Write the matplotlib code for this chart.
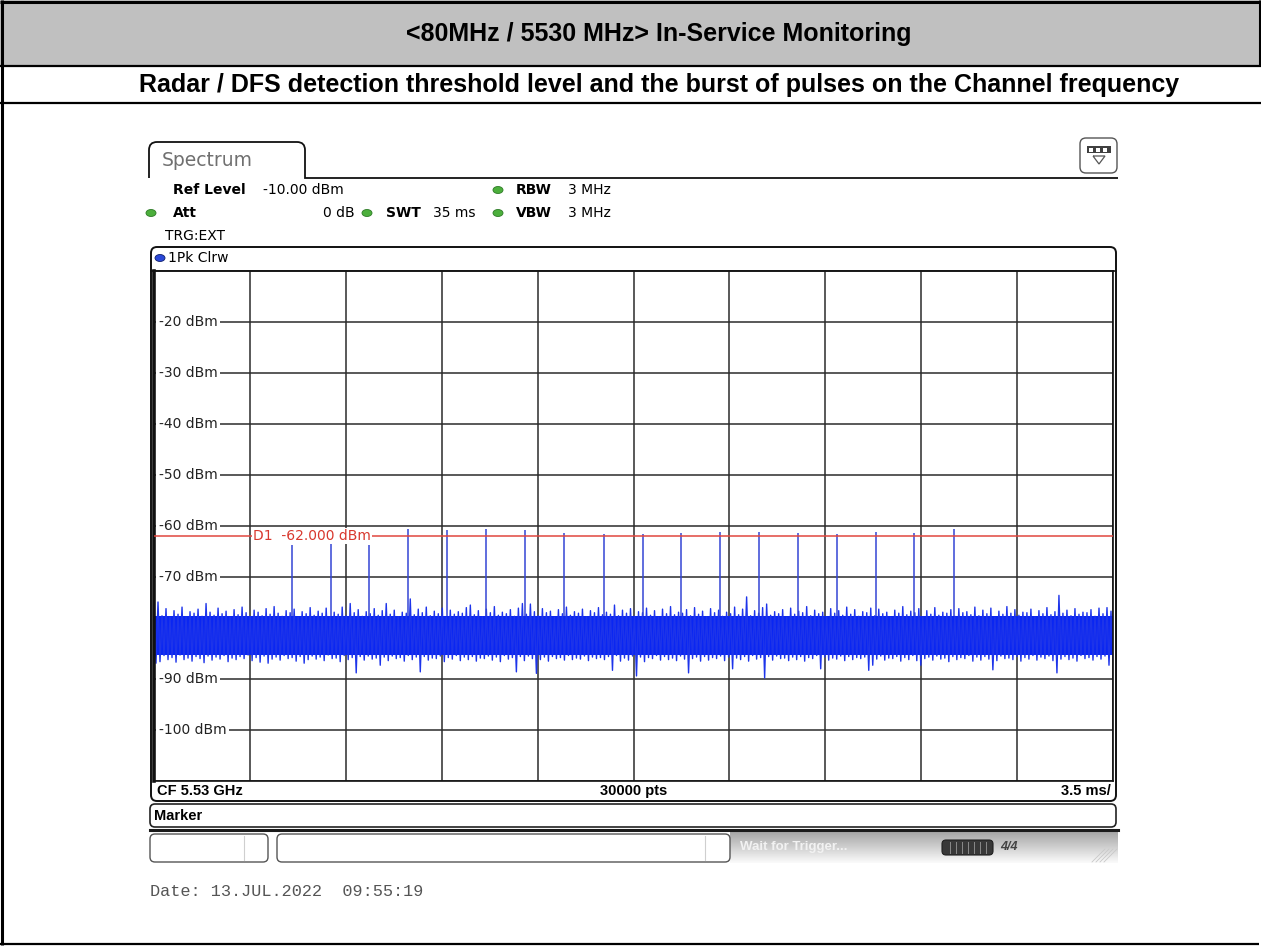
import numpy as np
import matplotlib
matplotlib.use("Agg")
import matplotlib.pyplot as plt
from matplotlib.patches import FancyBboxPatch, Ellipse, Rectangle, PathPatch
from matplotlib.path import Path

plt.rcParams['font.family'] = ['DejaVu Sans']

W, H = 1261, 947

title_text = "<80MHz / 5530 MHz> In-Service Monitoring"
subtitle_text = "Radar / DFS detection threshold level and the burst of pulses on the Channel frequency"
date_text = "Date: 13.JUL.2022  09:55:19"

# analyzer settings
sweep_ms = 35.0
div_ms = 3.5
ref_level = -10
y_bottom = -110
y_labels = [-20, -30, -40, -50, -60, -70, -90, -100]
threshold_dbm = -62.0
threshold_label = "D1  -62.000 dBm"
footer_left = "CF 5.53 GHz"
footer_mid = "30000 pts"
footer_right = "3.5 ms/"

# radar burst: pulse time (ms) and peak level (dBm)
pulse_t = [5.03, 6.45, 7.86, 9.28, 10.68, 12.11, 13.54, 14.95, 16.41,
           17.84, 19.25, 20.66, 22.08, 23.50, 24.92, 26.34, 27.75, 29.18]
pulse_peak = [-63.7, -63.6, -63.7, -60.6, -60.8, -60.6, -60.8, -61.4, -61.6,
              -61.6, -61.4, -61.1, -61.1, -61.4, -61.5, -61.1, -61.4, -60.6]

# noise floor envelope (max / min per group of display columns)
noise_hi = [
    -76.9, -74.9, -77.6, -76.2, -77.9, -76.6, -77.3, -75.9, -77.8, -76.8, -77.1, -76.3, -77.7, -75.2, -76.9, -77.5, -76.1, -77.2, -76.7, -77.9,
    -76.4, -77.4, -75.9, -77.0, -77.8, -76.5, -76.9, -77.6, -76.2, -77.3, -75.8, -77.1, -77.7, -76.6, -77.0, -76.3, -77.9, -76.8, -77.2, -76.0,
    -77.5, -76.7, -77.1, -76.1, -77.8, -76.9, -77.3, -75.9, -77.6, -75.2, -77.0, -76.4, -77.7, -76.8, -77.2, -76.2, -77.5, -76.6, -75.2, -77.3,
    -76.5, -77.8, -76.9, -77.1, -74.3, -77.4, -76.3, -77.0, -75.9, -77.6, -76.7, -77.2, -76.1, -77.9, -76.5, -77.3, -76.8, -77.1, -76.0, -75.5,
    -77.4, -76.6, -77.8, -76.3, -77.0, -75.8, -77.5, -76.9, -77.2, -76.4, -77.7, -76.1, -75.2, -77.3, -75.3, -76.8, -77.6, -76.2, -77.0, -76.7,
    -77.9, -76.4, -77.2, -75.9, -77.5, -76.8, -77.1, -76.3, -77.8, -76.6, -77.0, -76.0, -77.4, -76.9, -77.3, -75.5, -77.6, -76.5, -77.1, -76.2,
    -77.7, -76.8, -77.0, -76.1, -77.5, -76.6, -77.9, -76.3, -77.2, -75.8, -77.4, -76.9, -77.1, -76.4, -77.6, -76.0, -77.3, -76.7, -77.8, -76.2,
    -77.0, -76.5, -77.7, -76.9, -77.2, -75.9, -77.4, -76.3, -73.9, -77.6, -76.6, -77.1, -76.0, -75.3, -77.5, -76.8, -77.2, -76.4, -77.9, -76.1,
    -77.3, -76.7, -77.0, -75.8, -77.6, -76.5, -77.2, -76.9, -77.8, -76.2, -77.1, -76.6, -77.5, -75.9, -77.3, -76.4, -77.7, -76.8, -77.0, -76.1,
    -77.6, -76.3, -77.2, -76.9, -77.9, -76.5, -77.1, -75.8, -77.4, -76.7, -77.0, -76.2, -77.8, -76.6, -77.3, -76.0, -77.5, -76.9, -77.1, -76.4,
    -77.7, -76.2, -77.0, -76.8, -77.4, -75.9, -77.6, -76.5, -77.2, -76.1, -77.9, -76.7, -77.3, -75.8, -77.1, -76.4, -77.5, -76.9, -77.0, -76.3,
    -77.8, -76.6, -77.2, -76.0, -77.4, -76.8, -73.6, -77.1, -76.5, -77.6, -76.2, -77.3, -76.9, -77.0, -76.4, -77.7, -76.1, -77.2, -76.0, -76.7,
]
noise_lo = [
    -86.9, -86.6, -85.4, -86.2, -85.8, -86.7, -85.3, -86.2, -85.9, -86.5, -85.6, -86.0, -86.8, -85.5, -86.3, -85.7, -86.1, -85.4, -86.6, -85.9,
    -86.2, -85.6, -86.0, -85.3, -86.4, -85.8, -86.7, -85.5, -86.9, -86.1, -85.7, -86.3, -85.4, -86.0, -85.8, -86.5, -85.6, -86.9, -86.2, -85.5,
    -86.1, -85.7, -86.4, -85.3, -86.0, -85.9, -86.6, -85.4, -86.2, -85.8, -88.8, -85.6, -86.3, -85.5, -86.1, -85.9, -87.3, -85.7, -86.4, -85.5,
    -86.0, -85.8, -86.5, -85.4, -86.2, -85.7, -88.6, -85.6, -86.3, -85.9, -86.0, -85.5, -86.6, -85.8, -86.1, -85.4, -86.4, -85.7, -86.2, -85.6,
    -86.5, -85.9, -86.0, -85.5, -86.3, -85.7, -86.6, -85.4, -86.1, -85.8, -88.6, -85.6, -86.4, -85.5, -86.0, -88.9, -86.2, -85.7, -86.5, -85.6,
    -86.0, -85.8, -86.3, -85.4, -86.2, -85.9, -86.1, -85.5, -86.4, -85.7, -86.0, -85.8, -86.2, -85.6, -88.3, -85.4, -86.5, -85.9, -86.3, -85.5,
    -89.4, -85.7, -86.6, -85.8, -86.0, -85.4, -86.3, -85.6, -86.2, -85.9, -86.4, -85.5, -86.1, -88.8, -86.0, -85.7, -86.5, -85.6, -86.3, -85.8,
    -86.0, -85.5, -86.4, -85.7, -88.0, -85.9, -86.2, -85.6, -86.5, -85.4, -86.1, -85.8, -89.8, -85.6, -86.3, -85.5, -86.0, -85.9, -86.4, -85.7,
    -86.2, -85.6, -86.5, -85.8, -86.0, -85.4, -88.0, -85.7, -86.3, -85.9, -86.1, -85.5, -86.4, -85.6, -86.2, -85.8, -86.0, -85.7, -88.3, -87.3,
    -86.1, -85.5, -86.3, -85.9, -86.0, -85.6, -86.5, -85.8, -86.2, -85.4, -86.4, -87.3, -86.0, -85.7, -86.3, -85.5, -86.1, -85.9, -86.6, -85.6,
    -86.2, -85.8, -86.0, -85.4, -86.5, -85.7, -86.3, -85.6, -86.1, -88.2, -86.4, -85.5, -86.0, -85.9, -86.2, -85.6, -86.5, -85.8, -86.1, -85.4,
    -86.3, -85.7, -86.0, -85.5, -86.4, -88.8, -86.1, -85.6, -86.2, -85.9, -86.5, -85.4, -86.0, -85.8, -86.3, -85.6, -86.1, -85.5, -87.3, -86.2,
]
noise_core = (-77.6, -85.3)

TRACE = '#0a26f2'
SPIKE = '#1d34ea'
PULSE = '#3445d4'
RED = '#e0463e'

fig = plt.figure(figsize=(W / 100, H / 100), dpi=100)

# ---- page / table background in pixel coordinates
bg = fig.add_axes([0, 0, 1, 1])
bg.set_xlim(0, W)
bg.set_ylim(H, 0)
bg.axis('off')

bg.add_patch(Rectangle((0, 0), W, 66, fc='#c0c0c0', ec='none'))
k = dict(color='black', solid_capstyle='butt')
bg.plot([0, W], [1.5, 1.5], lw=2.2, **k)
bg.plot([1.5, 1.5], [0, 945], lw=2.2, **k)
bg.plot([1259.5, 1259.5], [0, 66], lw=2.2, **k)
bg.plot([0, W], [66, 66], lw=1.6, **k)
bg.plot([0, W], [103, 103], lw=1.6, **k)
bg.plot([0, 1259], [944, 944], lw=1.6, **k)

hfont = ['Liberation Sans', 'DejaVu Sans']
bg.text(659, 34, title_text, ha='center', va='center', fontsize=18,
        fontweight='bold', family=hfont)
bg.text(659, 85, subtitle_text, ha='center', va='center', fontsize=18,
        fontweight='bold', family=hfont)

# ---- analyzer screen decorations
tab = Path([(149, 178), (149, 150), (149, 142), (157, 142), (297, 142),
            (305, 142), (305, 150), (305, 178), (1118, 178)],
           [Path.MOVETO, Path.LINETO, Path.CURVE3, Path.CURVE3, Path.LINETO,
            Path.CURVE3, Path.CURVE3, Path.LINETO, Path.LINETO])
bg.add_patch(PathPatch(tab, fc='none', ec='#111111', lw=1.3))
bg.text(162, 160, "Spectrum", fontsize=13.5, color='#707070', va='center')

# settings icon, top right
bg.add_patch(FancyBboxPatch((1080, 138), 37, 35, boxstyle='round,pad=0,rounding_size=6',
                            fc='white', ec='#555555', lw=1.0))
bg.add_patch(Rectangle((1087, 146), 24, 7, fc='#404040', ec='none'))
for xs in (1089, 1096, 1103):
    bg.add_patch(Rectangle((xs, 147.5), 4, 4, fc='white', ec='none'))
bg.add_patch(PathPatch(Path([(1093, 156), (1105, 156), (1099, 164), (1093, 156)]),
                       fc='white', ec='#555555', lw=0.9))

def dot(x, y, fc='#4caf3c', ec='#2d7a26'):
    bg.add_patch(Ellipse((x, y), 10, 7, fc=fc, ec=ec, lw=0.6))

fs = 10
bg.text(173, 190, "Ref Level", fontsize=fs, fontweight='bold', va='center')
bg.text(263, 190, "-10.00 dBm", fontsize=fs, va='center')
dot(498, 190)
bg.text(516, 190, "RBW", fontsize=fs, fontweight='bold', va='center')
bg.text(568, 190, "3 MHz", fontsize=fs, va='center')
dot(151, 213)
bg.text(173, 213, "Att", fontsize=fs, fontweight='bold', va='center')
bg.text(355, 213, "0 dB", fontsize=fs, va='center', ha='right')
dot(367, 213)
bg.text(386, 213, "SWT", fontsize=fs, fontweight='bold', va='center')
bg.text(433, 213, "35 ms", fontsize=fs, va='center')
dot(498, 213)
bg.text(516, 213, "VBW", fontsize=fs, fontweight='bold', va='center')
bg.text(568, 213, "3 MHz", fontsize=fs, va='center')
bg.text(165, 236, "TRG:EXT", fontsize=fs, va='center')

# trace window frame, header and footer
bg.add_patch(FancyBboxPatch((151, 247), 965, 554, boxstyle='round,pad=0,rounding_size=6',
                            fc='white', ec='#111111', lw=1.4))
bg.plot([151, 1116], [270.5, 270.5], color='#111111', lw=1.2)
dot(160, 258, fc='#2a48d8', ec='#10206a')
bg.text(168, 258, "1Pk Clrw", fontsize=fs, va='center')

narrow = ['Liberation Sans Narrow', 'DejaVu Sans Condensed', 'Liberation Sans']
bg.text(157, 791, footer_left, fontsize=10.5, fontweight='bold', va='center', family=narrow)
bg.text(634, 791, footer_mid, fontsize=10.5, fontweight='bold', va='center', ha='center', family=narrow)
bg.text(1111, 791, footer_right, fontsize=10.5, fontweight='bold', va='center', ha='right', family=narrow)

bg.add_patch(FancyBboxPatch((150, 804), 966, 23, boxstyle='round,pad=0,rounding_size=5',
                            fc='white', ec='#222222', lw=1.2))
bg.text(154, 816, "Marker", fontsize=10.5, fontweight='bold', va='center', family=narrow)

# status bar
grad = np.linspace(0.62, 0.98, 40).reshape(-1, 1)
bg.imshow(grad, cmap='gray', vmin=0, vmax=1, extent=(730, 1118, 863, 829), aspect='auto', zorder=1)
bg.set_xlim(0, W)
bg.set_ylim(H, 0)
bg.plot([150, 1118], [829.5, 829.5], color='#1a1a1a', lw=2.2, zorder=2)
bg.add_patch(FancyBboxPatch((150, 834), 118, 28, boxstyle='round,pad=0,rounding_size=5',
                            fc='white', ec='#555555', lw=1.0, zorder=3))
bg.plot([244, 244], [836, 860], color='#cfcfcf', lw=0.8, zorder=4)
bg.add_patch(FancyBboxPatch((277, 834), 453, 28, boxstyle='round,pad=0,rounding_size=5',
                            fc='white', ec='#555555', lw=1.0, zorder=3))
bg.plot([705, 705], [836, 860], color='#cfcfcf', lw=0.8, zorder=4)
bg.text(740, 847, "Wait for Trigger...", fontsize=9.5, fontweight='bold', color='#f2f2f2',
        va='center', family=narrow, zorder=4)
bg.add_patch(FancyBboxPatch((942, 840), 51, 15, boxstyle='round,pad=0,rounding_size=4',
                            fc='#383838', ec='#202020', lw=0.8, zorder=4))
for xs in range(950, 990, 6):
    bg.plot([xs, xs], [842, 853], color='#8a8a8a', lw=0.7, zorder=5)
bg.text(1000, 847, "4/4", fontsize=9, fontweight='bold', style='italic', color='#444444',
        va='center', family=narrow, zorder=5)
for xs in range(1092, 1106, 4):
    bg.plot([xs, xs + 13], [862, 849], color='#c8c8c8', lw=0.6, zorder=4)

bg.text(150, 891, date_text, fontsize=12.2, color='#555555', va='center',
        family=['Liberation Mono', 'DejaVu Sans Mono'])

# ---- spectrum trace axes
ax = fig.add_axes([154 / W, 1 - 781 / H, 959 / W, 510 / H])
ax.set_xlim(0, sweep_ms)
ax.set_ylim(y_bottom, ref_level)
ax.set_xticks(np.arange(0, sweep_ms + 0.01, div_ms))
ax.set_yticks(np.arange(y_bottom, ref_level + 1, 10))
ax.grid(True, color='#2b2b2b', lw=1.1)
ax.tick_params(length=0, labelbottom=False, labelleft=False)
for s in ax.spines.values():
    s.set_color('#111111')
    s.set_linewidth(1.2)
ax.spines['left'].set_linewidth(2.6)

x_noise = np.linspace(0, sweep_ms, 2 * len(noise_hi))
y_noise = np.empty(2 * len(noise_hi))
y_noise[0::2] = noise_hi
y_noise[1::2] = noise_lo
ax.fill_between([0, sweep_ms], noise_core[0], noise_core[1], color=TRACE, lw=0, zorder=2)
ax.plot(x_noise, y_noise, color=SPIKE, lw=1.0, zorder=2.1)
ax.vlines(pulse_t, noise_core[0], pulse_peak, color=PULSE, lw=1.1, zorder=2.2)

ax.axhline(threshold_dbm, color=RED, lw=1.1, zorder=3)
ax.text(3.62, threshold_dbm, threshold_label, color='#d8382e', fontsize=10, va='center',
        ha='left', bbox=dict(fc='white', ec='none', pad=0.6), zorder=6)
for v in y_labels:
    ax.text(0.17, v, f"{v} dBm", fontsize=10, va='center', ha='left', color='#222222',
            bbox=dict(fc='white', ec='none', pad=2.0), zorder=2.3)

fig.savefig("out.png", dpi=100)
